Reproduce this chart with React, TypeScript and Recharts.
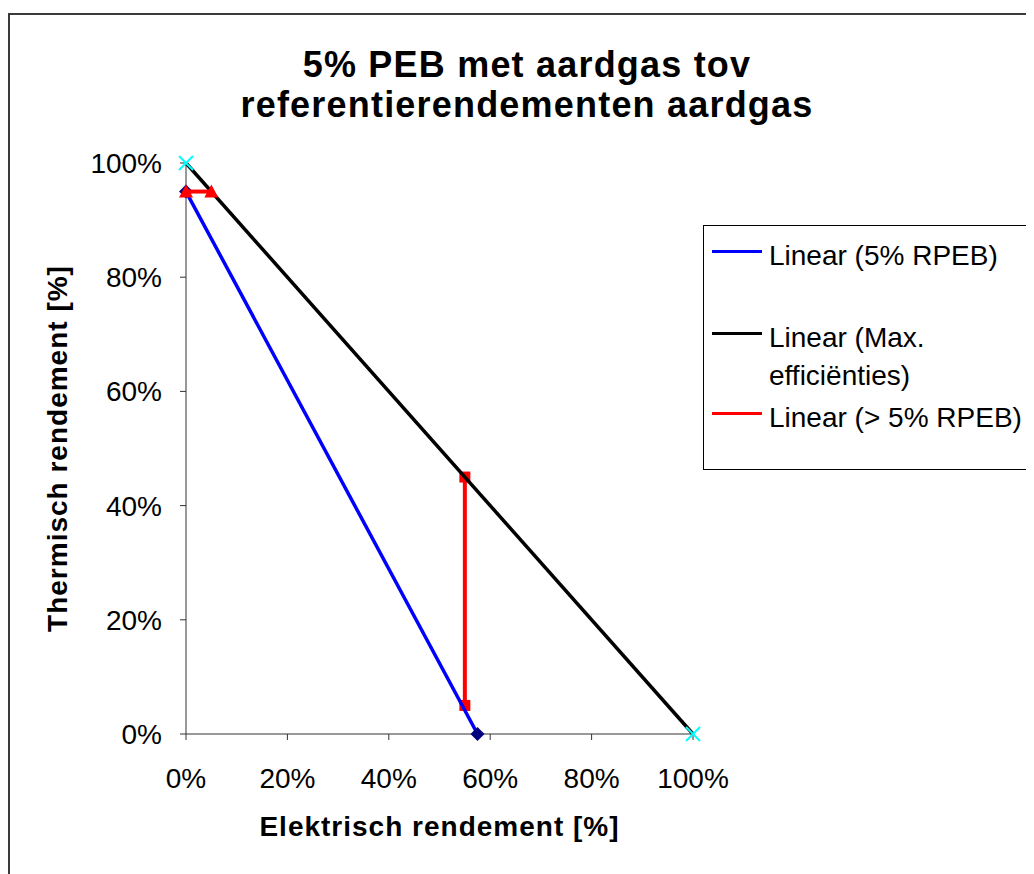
import React from "react"
import { ScatterChart, Scatter, XAxis, YAxis, Label } from "recharts"

const titleLines = ["5% PEB met aardgas tov", "referentierendementen aardgas"]
const xTitle = "Elektrisch rendement [%]"
const yTitle = "Thermisch rendement [%]"
const axisTicks = [0, 20, 40, 60, 80, 100]

// 5% RPEB line
const elek5 = [0, 57.5]
const therm5 = [95, 0]
// max. efficiencies
const elekMax = [0, 100]
const thermMax = [100, 0]
// > 5% RPEB (two red segments)
const elekRedTop = [0, 5]
const thermRedTop = [95, 95]
const elekRedMid = [55, 55]
const thermRedMid = [45, 5]

const legendNames = ["Linear (5% RPEB)", "Linear (Max.\nefficiënties)", "Linear (> 5% RPEB)"]
const legendColors = ["#0000ff", "#000000", "#ff0000"]

const font = '"Liberation Sans", Arial, sans-serif'

const toPoints = (xs: number[], ys: number[]) => xs.map((x, i) => ({ x, y: ys[i] }))

const Diamond = (p: any) => (
  <path d={`M${p.cx},${p.cy - 7}L${p.cx + 7},${p.cy}L${p.cx},${p.cy + 7}L${p.cx - 7},${p.cy}Z`} fill="#000080" />
)
const Cross = (p: any) => (
  <g stroke="#00ffff" strokeWidth={2}>
    <line x1={p.cx - 7} y1={p.cy - 7} x2={p.cx + 7} y2={p.cy + 7} />
    <line x1={p.cx - 7} y1={p.cy + 7} x2={p.cx + 7} y2={p.cy - 7} />
  </g>
)
const Triangle = (p: any) => (
  <path d={`M${p.cx},${p.cy - 7}L${p.cx + 7},${p.cy + 6}L${p.cx - 7},${p.cy + 6}Z`} fill="#ff0000" />
)
const Square = (p: any) => <rect x={p.cx - 5.5} y={p.cy - 5.5} width={11} height={11} fill="#ff0000" />

const pct = (v: number) => `${v}%`
const tickStyle = { fontSize: 28, fill: "#000", fontFamily: font }

export default function App() {
  return (
    <div style={{ position: "relative", width: 1026, height: 866, overflow: "hidden", fontFamily: font }}>
      <div
        style={{
          position: "absolute",
          left: 0,
          top: 5,
          width: 1100,
          height: 900,
          border: "2px solid #3a3a3a",
          boxSizing: "border-box",
        }}
      />
      <div
        style={{
          position: "absolute",
          left: 119,
          top: 37,
          width: 800,
          textAlign: "center",
          fontWeight: "bold",
          fontSize: 36,
          lineHeight: "40px",
          letterSpacing: 1.2,
        }}
      >
        {titleLines.map((t) => (
          <div key={t}>{t}</div>
        ))}
      </div>
      <div style={{ position: "absolute", left: 0, top: 0 }}>
        <ScatterChart width={1026} height={866} margin={{ top: 155, right: 341, left: 20, bottom: 30 }}>
          <XAxis
            type="number"
            dataKey="x"
            domain={[0, 100]}
            ticks={axisTicks}
            tickFormatter={pct}
            height={110}
            stroke="#333"
            tickSize={6}
            tickMargin={28}
            tick={tickStyle}
          >
            <Label
              content={({ viewBox }: any) => (
                <text
                  x={viewBox.x + viewBox.width / 2}
                  y={viewBox.y + 102}
                  textAnchor="middle"
                  fontSize={28}
                  fontWeight="bold"
                  fontFamily={font}
                  letterSpacing={1}
                >
                  {xTitle}
                </text>
              )}
            />
          </XAxis>
          <YAxis
            type="number"
            dataKey="y"
            domain={[0, 100]}
            ticks={axisTicks}
            tickFormatter={pct}
            width={158}
            stroke="#333"
            tickSize={6}
            tickMargin={18}
            tick={tickStyle}
          >
            <Label
              content={({ viewBox }: any) => {
                const x = viewBox.x + 39
                const y = viewBox.y + viewBox.height / 2
                return (
                  <text
                    x={x}
                    y={y}
                    transform={`rotate(-90 ${x} ${y})`}
                    textAnchor="middle"
                    fontSize={28}
                    fontWeight="bold"
                    fontFamily={font}
                    letterSpacing={1}
                  >
                    {yTitle}
                  </text>
                )
              }}
            />
          </YAxis>
          <Scatter
            data={toPoints(elekRedMid, thermRedMid)}
            line={{ stroke: "#ff0000", strokeWidth: 4 }}
            lineType="joint"
            shape={Square}
            isAnimationActive={false}
          />
          <Scatter
            data={toPoints(elek5, therm5)}
            line={{ stroke: "#0000ff", strokeWidth: 3.5 }}
            lineType="joint"
            shape={Diamond}
            isAnimationActive={false}
          />
          <Scatter
            data={toPoints(elekMax, thermMax)}
            line={{ stroke: "#000000", strokeWidth: 3.5 }}
            lineType="joint"
            shape={Cross}
            isAnimationActive={false}
          />
          <Scatter
            data={toPoints(elekRedTop, thermRedTop)}
            line={{ stroke: "#ff0000", strokeWidth: 4 }}
            lineType="joint"
            shape={Triangle}
            isAnimationActive={false}
          />
        </ScatterChart>
      </div>
      <div
        style={{
          position: "absolute",
          left: 695,
          top: 217,
          width: 400,
          height: 245,
          border: "1px solid #000",
          boxSizing: "border-box",
          fontSize: 28,
          lineHeight: "38px",
        }}
      >
        {legendNames.map((name, i) => (
          <div
            key={name}
            style={{ position: "absolute", left: 0, top: [11, 93, 173][i], width: 398, whiteSpace: "pre-line" }}
          >
            <div
              style={{ position: "absolute", left: 8, top: 13, width: 50, height: 3, background: legendColors[i] }}
            />
            <div style={{ paddingLeft: 65 }}>{name}</div>
          </div>
        ))}
      </div>
    </div>
  )
}
